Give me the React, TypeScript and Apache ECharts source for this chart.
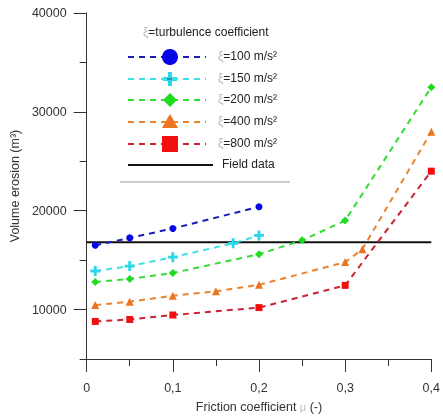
import React, { useEffect, useRef } from "react";
import * as echarts from "echarts";

// ---- data ----
const xBlue = [0.01, 0.05, 0.1, 0.2];
const yBlue = [16500, 17250, 18200, 20400];
const xCyan = [0.01, 0.05, 0.1, 0.17, 0.2];
const yCyan = [13900, 14400, 15300, 16700, 17500];
const xGreen = [0.01, 0.05, 0.1, 0.2, 0.25, 0.3, 0.4];
const yGreen = [12800, 13100, 13700, 15600, 17000, 19000, 32500];
const xOrange = [0.01, 0.05, 0.1, 0.15, 0.2, 0.3, 0.32, 0.4];
const yOrange = [10450, 10800, 11400, 11850, 12500, 14800, 16100, 28000];
const xRed = [0.01, 0.05, 0.1, 0.2, 0.3, 0.4];
const yRed = [8800, 9000, 9450, 10200, 12450, 24000];
const xField = [0, 0.4];
const yField = [16800, 16800];

const seriesNames = ["=100 m/s²", "=150 m/s²", "=200 m/s²", "=400 m/s²", "=800 m/s²"];
const yTickLabels = [10000, 20000, 30000, 40000];

const PLUS = "path://M-1.3,-4.5 L1.3,-4.5 L1.3,-1.3 L4.5,-1.3 L4.5,1.3 L1.3,1.3 L1.3,4.5 L-1.3,4.5 L-1.3,1.3 L-4.5,1.3 L-4.5,-1.3 L-1.3,-1.3 Z";

const pairs = (xs: number[], ys: number[]) => xs.map((x, i) => [x, ys[i]]);

const FONT = "Liberation Sans, Arial, sans-serif";

export default function App() {
  const ref = useRef<HTMLDivElement>(null);
  useEffect(() => {
    document.body.style.margin = "0";
    const chart = echarts.init(ref.current!, null, { renderer: "svg" });
    const styles = [
      { line: "#1c1cb4", mark: "#0505e8", symbol: "circle", size: 7 },
      { line: "#3ee0e6", mark: "#2ad8ea", symbol: PLUS, size: 10 },
      { line: "#36dc36", mark: "#1fdc1f", symbol: "diamond", size: 8 },
      { line: "#e8842e", mark: "#ee7420", symbol: "triangle", size: 8 },
      { line: "#cc2233", mark: "#f01010", symbol: "rect", size: 7 },
    ];
    const datas = [
      pairs(xBlue, yBlue),
      pairs(xCyan, yCyan),
      pairs(xGreen, yGreen),
      pairs(xOrange, yOrange),
      pairs(xRed, yRed),
    ];
    const series: any[] = datas.map((d, i) => ({
      type: "line",
      name: seriesNames[i],
      data: d,
      symbol: styles[i].symbol,
      symbolSize: styles[i].size,
      showAllSymbol: true,
      lineStyle: { color: styles[i].line, width: 2, type: [6, 5] },
      itemStyle: { color: styles[i].mark },
      z: 3 + i,
    }));
    series.push({
      type: "line",
      name: "Field data",
      data: pairs(xField, yField),
      symbol: "none",
      lineStyle: { color: "#111", width: 2 },
      z: 2,
    });

    // legend graphics
    const rowY = [57, 79, 100, 122, 144];
    const g: any[] = [];
    g.push({
      type: "text",
      left: 143,
      top: 26,
      style: {
        text: "{g|ξ}=turbulence coefficient",
        font: `12px ${FONT}`,
        fill: "#222",
        rich: { g: { fill: "#bbb", font: `12px ${FONT}` } },
      },
    });
    const legendShape = (i: number, cx: number, cy: number) => {
      const c = styles[i].mark;
      if (i === 0) return { type: "circle", shape: { cx, cy, r: 8 }, style: { fill: c }, z: 10 };
      if (i === 1)
        return {
          type: "group",
          z: 10,
          children: [
            { type: "rect", shape: { x: cx - 7, y: cy - 2, width: 14, height: 4 }, style: { fill: c } },
            { type: "rect", shape: { x: cx - 2, y: cy - 7, width: 4, height: 14 }, style: { fill: c } },
            { type: "line", shape: { x1: cx - 7, y1: cy, x2: cx + 7, y2: cy }, style: { stroke: "#2a4a6a", lineWidth: 1 } },
          ],
        };
      if (i === 2)
        return {
          type: "polygon",
          shape: { points: [[cx, cy - 7], [cx + 7, cy], [cx, cy + 7], [cx - 7, cy]] },
          style: { fill: c },
          z: 10,
        };
      if (i === 3)
        return {
          type: "polygon",
          shape: { points: [[cx, cy - 8], [cx + 8, cy + 6], [cx - 8, cy + 6]] },
          style: { fill: c },
          z: 10,
        };
      return { type: "rect", shape: { x: cx - 8, y: cy - 8, width: 16, height: 16 }, style: { fill: c }, z: 10 };
    };
    rowY.forEach((y, i) => {
      g.push({
        type: "line",
        shape: { x1: 128, y1: y, x2: 206, y2: y },
        style: { stroke: styles[i].line, lineWidth: 2, lineDash: [6, 5] },
        z: 9,
      });
      g.push(legendShape(i, 170, y));
      g.push({
        type: "text",
        left: 218,
        top: y - 7,
        style: {
          text: "{g|ξ}" + seriesNames[i],
          font: `12px ${FONT}`,
          fill: "#222",
          rich: { g: { fill: "#bbb", font: `12px ${FONT}` } },
        },
      });
    });
    g.push({
      type: "line",
      shape: { x1: 128, y1: 165, x2: 213, y2: 165 },
      style: { stroke: "#111", lineWidth: 2 },
    });
    g.push({
      type: "text",
      left: 222,
      top: 158,
      style: { text: "Field data", font: `12px ${FONT}`, fill: "#222" },
    });
    g.push({
      type: "line",
      shape: { x1: 120, y1: 182, x2: 290, y2: 182 },
      style: { stroke: "#999", lineWidth: 1 },
    });

    chart.setOption({
      animation: false,
      textStyle: { fontFamily: FONT },
      grid: { left: 84, right: 8, top: 13, bottom: 53, containLabel: false },
      xAxis: {
        type: "value",
        min: 0,
        max: 0.4,
        interval: 0.1,
        axisLine: { lineStyle: { color: "#333", width: 1 } },
        axisTick: { length: 13, lineStyle: { color: "#333" } },
        minorTick: { show: true, splitNumber: 2, length: 7, lineStyle: { color: "#333" } },
        splitLine: { show: false },
        axisLabel: {
          margin: 22,
          color: "#333",
          fontSize: 12.5,
          formatter: (v: number) => (v === 0 ? "0" : String(Math.round(v * 10) / 10).replace(".", ",")),
        },
        name: "Friction coefficient {g|μ} (-)",
        nameLocation: "middle",
        nameGap: 41,
        nameTextStyle: {
          color: "#333",
          fontSize: 12.5,
          rich: { g: { color: "#bbb", fontSize: 11 } },
        },
      },
      yAxis: [
        {
          type: "value",
          min: 5000,
          max: 40000,
          interval: 5000,
          axisLine: { show: true, lineStyle: { color: "#333", width: 1 } },
          axisTick: { show: true, length: 13, customValues: yTickLabels, lineStyle: { color: "#333" } },
          splitLine: { show: false },
          axisLabel: {
            customValues: yTickLabels,
            margin: 20,
            color: "#333",
            fontSize: 12.5,
            formatter: (v: number) => String(v),
          },
          name: "Volume erosion (m³)",
          nameLocation: "middle",
          nameGap: 58,
          nameTextStyle: { color: "#333", fontSize: 12.5 },
        },
        {
          type: "value",
          min: 5000,
          max: 40000,
          interval: 5000,
          position: "left",
          axisLine: { show: false },
          axisTick: { show: true, length: 7, lineStyle: { color: "#333" } },
          axisLabel: { show: false },
          splitLine: { show: false },
        },
      ],
      series,
      graphic: g,
    });
    return () => chart.dispose();
  }, []);
  return <div ref={ref} style={{ position: "fixed", left: 0, top: 0, width: 443, height: 418 }} />;
}
